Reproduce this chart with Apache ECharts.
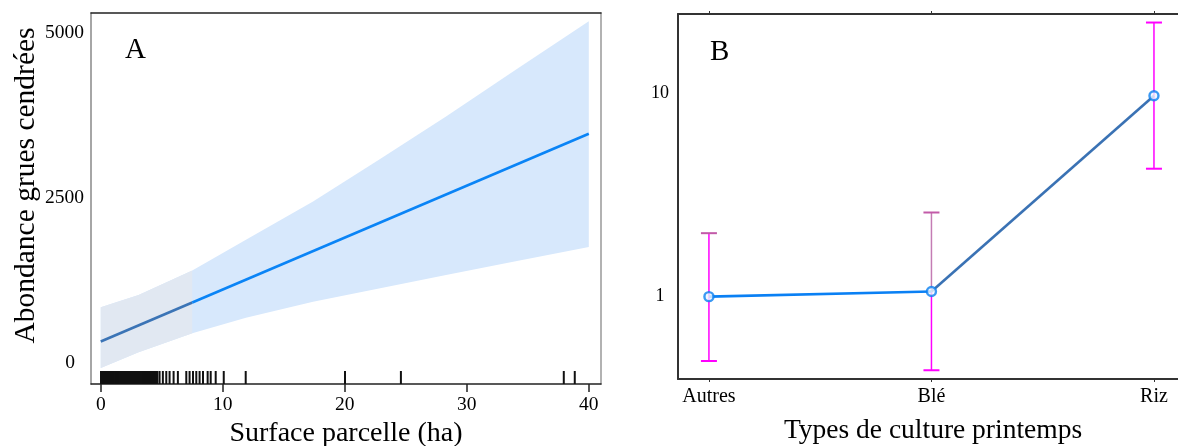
<!DOCTYPE html>
<html>
<head>
<meta charset="utf-8">
<script src="https://cdn.jsdelivr.net/npm/echarts@6/dist/echarts.min.js"></script>
<style>
html,body{margin:0;padding:0;background:#fff;}
#chart{width:1178px;height:446px;}
</style>
</head>
<body>
<div id="chart"></div>
<script>
// ---------- Panel A data ----------
const xTicksA = [0, 10, 20, 30, 40];
const yTicksA = [0, 2500, 5000];
const bandX = [0, 3.1, 7.5, 11.9, 17.4, 22.8, 28.3, 33.8, 40];
const bandUpper = [844, 1030, 1399, 1864, 2444, 3076, 3732, 4414, 5175];
const bandLower = [-78, 160, 450, 685, 925, 1125, 1330, 1530, 1755];
const lineX = [0, 7.5, 40];
const lineY = [323, 915, 3470];
const shadedEndIndex = 2; // band points up to x = 7.5 are in the grey zone
const rugX = [0.02, 0.1, 0.18, 0.26, 0.34, 0.42, 0.5, 0.58, 0.66, 0.74, 0.82, 0.9, 0.98, 1.06, 1.14, 1.22, 1.3, 1.38, 1.46, 1.54, 1.62, 1.7, 1.78, 1.86, 1.94, 2.02, 2.1, 2.18, 2.26, 2.34, 2.42, 2.5, 2.58, 2.66, 2.74, 2.82, 2.9, 2.98, 3.06, 3.14, 3.22, 3.3, 3.38, 3.53, 3.61, 3.69, 3.77, 3.85, 3.93, 4.01, 4.09, 4.17, 4.25, 4.33, 4.41, 4.49, 4.57, 4.64, 4.82, 5.09, 5.37, 5.64, 5.97, 6.32, 7.01, 7.28, 7.56, 7.83, 8.1, 8.38, 8.76, 9.01, 9.42, 10.08, 11.88, 20.02, 24.6, 37.95, 38.85];

// ---------- Panel B data ----------
const categoriesB = ['Autres', 'Blé', 'Riz'];
const meanB = [1.0, 1.06, 9.7];
const lowerB = [0.483, 0.435, 4.25];
const upperB = [2.05, 2.59, 22.2];
const yTicksB = [1, 10];

const FONT = '"Liberation Serif", "DejaVu Serif", serif';
const upperStemColors = ['#ff00ff', '#c47cb4', '#ff00ff'];
const upperCapColors = ['#c25aa8', '#c25aa8', '#ff00ff'];

const chart = echarts.init(document.getElementById('chart'), null, {renderer: 'canvas'});

function bandPolygon(xs, up, lo, n, api) {
  const pts = [];
  for (let i = 0; i < n; i++) pts.push(api.coord([xs[i], up[i]]));
  for (let i = n - 1; i >= 0; i--) pts.push(api.coord([xs[i], lo[i]]));
  return pts;
}

const option = {
  animation: false,
  backgroundColor: '#fff',
  textStyle: {fontFamily: FONT},
  title: [
    {text: 'A', left: 120, top: 31, textStyle: {fontFamily: FONT, fontSize: 29, fontWeight: 'normal', color: '#000'}},
    {text: 'B', left: 705, top: 33, textStyle: {fontFamily: FONT, fontSize: 29, fontWeight: 'normal', color: '#000'}}
  ],
  grid: [
    {left: 91, top: 13, right: 577, bottom: 62, outerBoundsMode: 'none', containLabel: false},
    {left: 678, top: 14, right: 0, bottom: 67, outerBoundsMode: 'none', containLabel: false}
  ],
  xAxis: [
    {
      gridIndex: 0, type: 'value', min: -0.8, max: 41,
      name: 'Surface parcelle (ha)', nameLocation: 'middle', nameGap: 33,
      nameTextStyle: {fontFamily: FONT, fontSize: 28, color: '#000'},
      axisLine: {show: true, onZero: false, lineStyle: {color: '#222', width: 1.5}},
      axisTick: {show: true, length: 8, lineStyle: {color: '#222', width: 1.5}, customValues: xTicksA},
      axisLabel: {fontFamily: FONT, fontSize: 19.5, color: '#000', margin: 11, customValues: xTicksA},
      splitLine: {show: false}
    },
    {
      gridIndex: 0, type: 'value', min: -0.8, max: 41, position: 'top',
      axisLine: {show: true, onZero: false, lineStyle: {color: '#222', width: 1.5}},
      axisTick: {show: false}, axisLabel: {show: false}, splitLine: {show: false}
    },
    {
      gridIndex: 1, type: 'value', min: -0.139, max: 2.108,
      name: 'Types de culture printemps', nameLocation: 'middle', nameGap: 38,
      nameTextStyle: {fontFamily: FONT, fontSize: 27.5, color: '#000', padding: [0, 0, 0, 10]},
      axisLine: {show: true, onZero: false, lineStyle: {color: '#333', width: 2}},
      axisTick: {show: true, length: 3, lineStyle: {color: '#333', width: 1}, customValues: [0, 1, 2]},
      axisLabel: {fontFamily: FONT, fontSize: 20, color: '#000', margin: 8, customValues: [0, 1, 2],
        formatter: v => categoriesB[Math.round(v)]},
      splitLine: {show: false}
    },
    {
      gridIndex: 1, type: 'value', min: -0.139, max: 2.108, position: 'top',
      axisLine: {show: true, onZero: false, lineStyle: {color: '#333', width: 2}},
      axisTick: {show: true, length: 3, lineStyle: {color: '#333', width: 1}, customValues: [0, 1, 2]},
      axisLabel: {show: false}, splitLine: {show: false}
    }
  ],
  yAxis: [
    {
      gridIndex: 0, type: 'value', min: -320, max: 5300,
      name: 'Abondance grues cendrées', nameLocation: 'middle', nameGap: 49, nameRotate: 90,
      nameTextStyle: {fontFamily: FONT, fontSize: 29.5, color: '#000', padding: [0, 0, 0, 26]},
      axisLine: {show: true, onZero: false, lineStyle: {color: '#888', width: 1.5}},
      axisTick: {show: false},
      axisLabel: {fontFamily: FONT, fontSize: 19.5, color: '#000', margin: 7, customValues: yTicksA,
        formatter: v => v === 0 ? '{z|0}' : String(v),
        rich: {z: {fontFamily: FONT, fontSize: 19.5, color: '#000', padding: [0, 9, 0, 0]}}},
      splitLine: {show: false}
    },
    {
      gridIndex: 0, type: 'value', min: -320, max: 5300, position: 'right',
      axisLine: {show: true, onZero: false, lineStyle: {color: '#999', width: 1.5}},
      axisTick: {show: false}, axisLabel: {show: false}, splitLine: {show: false}
    },
    {
      gridIndex: 1, type: 'log', logBase: 10, min: 0.394, max: 24.45,
      axisLine: {show: true, onZero: false, lineStyle: {color: '#333', width: 2}},
      axisTick: {show: false},
      axisLabel: {fontFamily: FONT, fontSize: 18, color: '#000', margin: 18, align: 'center', customValues: yTicksB,
        formatter: v => String(Math.round(v))},
      splitLine: {show: false}
    }
  ],
  series: [
    // Panel A: confidence band
    {
      type: 'custom', xAxisIndex: 0, yAxisIndex: 0, data: [[0, 0]], silent: true, z: 1,
      renderItem: (params, api) => ({
        type: 'polygon',
        shape: {points: bandPolygon(bandX, bandUpper, bandLower, bandX.length, api)},
        style: {fill: '#d7e8fc'}
      })
    },
    {
      type: 'custom', xAxisIndex: 0, yAxisIndex: 0, data: [[0, 0]], silent: true, z: 2,
      renderItem: (params, api) => ({
        type: 'polygon',
        shape: {points: bandPolygon(bandX, bandUpper, bandLower, shadedEndIndex + 1, api)},
        style: {fill: '#e1e8f2'}
      })
    },
    // Panel A: fitted line
    {
      type: 'line', xAxisIndex: 0, yAxisIndex: 0, showSymbol: false, silent: true, z: 3,
      data: lineX.slice(0, 2).map((x, i) => [x, lineY[i]]),
      lineStyle: {color: '#3b74b6', width: 2.6}
    },
    {
      type: 'line', xAxisIndex: 0, yAxisIndex: 0, showSymbol: false, silent: true, z: 3,
      data: lineX.slice(1).map((x, i) => [x, lineY[i + 1]]),
      lineStyle: {color: '#0a84f6', width: 2.6}
    },
    // Panel A: rug
    {
      type: 'custom', xAxisIndex: 0, yAxisIndex: 0, silent: true, z: 4,
      data: rugX.map(x => [x, -320]),
      renderItem: (params, api) => {
        const p = api.coord([api.value(0), api.value(1)]);
        return {type: 'line', shape: {x1: p[0], y1: p[1], x2: p[0], y2: p[1] - 13},
          style: {stroke: '#111', lineWidth: 2}};
      }
    },
    // Panel B: error bars
    {
      type: 'custom', xAxisIndex: 2, yAxisIndex: 2, silent: true, z: 2,
      data: categoriesB.map((c, i) => [i, lowerB[i], upperB[i], meanB[i]]),
      renderItem: (params, api) => {
        const i = params.dataIndex;
        const x = api.value(0);
        const lo = api.coord([x, api.value(1)]);
        const hi = api.coord([x, api.value(2)]);
        const mid = api.coord([x, api.value(3)]);
        const w = 8;
        return {type: 'group', children: [
          {type: 'line', shape: {x1: mid[0], y1: mid[1], x2: lo[0], y2: lo[1]}, style: {stroke: '#ff00ff', lineWidth: 1.5}},
          {type: 'line', shape: {x1: hi[0], y1: hi[1], x2: mid[0], y2: mid[1]}, style: {stroke: upperStemColors[i], lineWidth: 1.5}},
          {type: 'line', shape: {x1: lo[0] - w, y1: lo[1], x2: lo[0] + w, y2: lo[1]}, style: {stroke: '#ff00ff', lineWidth: 2}},
          {type: 'line', shape: {x1: hi[0] - w, y1: hi[1], x2: hi[0] + w, y2: hi[1]}, style: {stroke: upperCapColors[i], lineWidth: 2}}
        ]};
      }
    },
    // Panel B: line segments
    {
      type: 'line', xAxisIndex: 2, yAxisIndex: 2, showSymbol: false, silent: true, z: 3,
      data: meanB.slice(0, 2).map((v, i) => [i, v]),
      lineStyle: {color: '#0a80f4', width: 2.6}
    },
    {
      type: 'line', xAxisIndex: 2, yAxisIndex: 2, showSymbol: false, silent: true, z: 3,
      data: meanB.slice(1).map((v, i) => [i + 1, v]),
      lineStyle: {color: '#3a72b4', width: 2.6}
    },
    // Panel B: markers
    {
      type: 'scatter', xAxisIndex: 2, yAxisIndex: 2, silent: true, z: 5,
      data: meanB.map((v, i) => [i, v]),
      symbol: 'circle', symbolSize: 9,
      itemStyle: {color: '#eef5ff', borderColor: '#0a7ff0', borderWidth: 2.4}
    }
  ]
};
chart.setOption(option);
</script>
</body>
</html>
